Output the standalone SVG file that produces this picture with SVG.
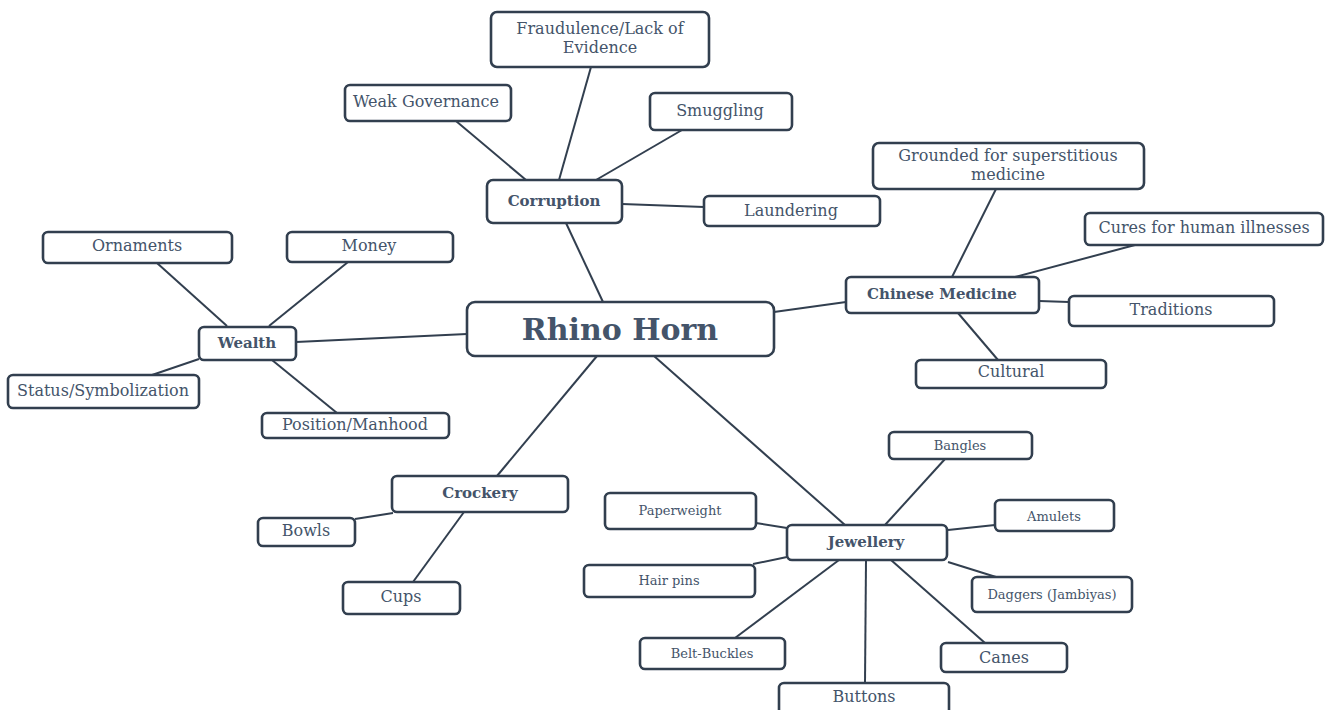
<svg xmlns="http://www.w3.org/2000/svg" width="1330" height="710" viewBox="0 0 1330 710">
<style>
.box{fill:#fff;stroke:#323f4f;stroke-width:2.6}
.t{font-family:"DejaVu Serif","Liberation Serif",serif;font-size:16px;fill:#44546a;text-anchor:middle}
.s{font-size:13px}
.b{font-weight:bold;font-size:15px}
.c line{stroke:#323f4f;stroke-width:2}
</style>
<rect width="1330" height="710" fill="#fff"/>
<g class="c" id="connectors">
<line x1="591" y1="67" x2="559" y2="180"/>
<line x1="456" y1="121" x2="526" y2="180"/>
<line x1="682" y1="130" x2="596" y2="180"/>
<line x1="622" y1="204" x2="704" y2="207"/>
<line x1="566" y1="223" x2="603" y2="302"/>
<line x1="996" y1="189" x2="952" y2="277"/>
<line x1="1135" y1="245" x2="1015" y2="277"/>
<line x1="1039" y1="301" x2="1069" y2="302"/>
<line x1="958" y1="313" x2="998" y2="360"/>
<line x1="774" y1="312" x2="846" y2="302"/>
<line x1="157" y1="263" x2="227" y2="326"/>
<line x1="348" y1="262" x2="269" y2="326"/>
<line x1="199" y1="359" x2="152" y2="375"/>
<line x1="272" y1="360" x2="337" y2="413"/>
<line x1="296" y1="342" x2="467" y2="334"/>
<line x1="597" y1="356" x2="497" y2="476"/>
<line x1="355" y1="519" x2="393" y2="513"/>
<line x1="413" y1="582" x2="464" y2="512"/>
<line x1="654" y1="356" x2="845" y2="525"/>
<line x1="945" y1="459" x2="885" y2="525"/>
<line x1="756" y1="523" x2="787" y2="528"/>
<line x1="995" y1="525" x2="948" y2="530"/>
<line x1="753" y1="564" x2="787" y2="557"/>
<line x1="948" y1="562" x2="996" y2="577"/>
<line x1="735" y1="638" x2="839" y2="560"/>
<line x1="865" y1="683" x2="866" y2="560"/>
<line x1="985" y1="643" x2="891" y2="560"/>
</g>
<g id="rhino"><rect class="box" x="467" y="302" width="307" height="54" rx="8"/><text class="t b" x="620" y="340" style="font-size:30px">Rhino Horn</text></g>
<g id="corruption"><rect class="box" x="487" y="180" width="135" height="43" rx="6"/><text class="t b" x="554" y="206">Corruption</text></g>
<g id="fraud"><rect class="box" x="491" y="12" width="218" height="55" rx="6"/><text class="t" x="600" y="34">Fraudulence/Lack of</text><text class="t" x="600" y="53">Evidence</text></g>
<g id="weakgov"><rect class="box" x="345" y="85" width="166" height="36" rx="5"/><text class="t" x="426" y="107">Weak Governance</text></g>
<g id="smuggling"><rect class="box" x="650" y="93" width="142" height="37" rx="5"/><text class="t" x="720" y="116">Smuggling</text></g>
<g id="laundering"><rect class="box" x="704" y="196" width="176" height="30" rx="5"/><text class="t" x="791" y="216">Laundering</text></g>
<g id="chinese"><rect class="box" x="846" y="277" width="193" height="36" rx="5"/><text class="t b" x="942" y="299">Chinese Medicine</text></g>
<g id="grounded"><rect class="box" x="873" y="143" width="271" height="46" rx="6"/><text class="t" x="1008" y="161">Grounded for superstitious</text><text class="t" x="1008" y="180">medicine</text></g>
<g id="cures"><rect class="box" x="1085" y="213" width="238" height="32" rx="5"/><text class="t" x="1204" y="233">Cures for human illnesses</text></g>
<g id="traditions"><rect class="box" x="1069" y="296" width="205" height="30" rx="5"/><text class="t" x="1171" y="315">Traditions</text></g>
<g id="cultural"><rect class="box" x="916" y="360" width="190" height="28" rx="5"/><text class="t" x="1011" y="377">Cultural</text></g>
<g id="wealth"><rect class="box" x="199" y="327" width="97" height="33" rx="5"/><text class="t b" x="247" y="348">Wealth</text></g>
<g id="ornaments"><rect class="box" x="43" y="232" width="189" height="31" rx="5"/><text class="t" x="137" y="251">Ornaments</text></g>
<g id="money"><rect class="box" x="287" y="232" width="166" height="30" rx="5"/><text class="t" x="369" y="251">Money</text></g>
<g id="status"><rect class="box" x="8" y="375" width="191" height="33" rx="5"/><text class="t" x="103" y="396">Status/Symbolization</text></g>
<g id="position"><rect class="box" x="262" y="413" width="187" height="25" rx="5"/><text class="t" x="355" y="430">Position/Manhood</text></g>
<g id="crockery"><rect class="box" x="392" y="476" width="176" height="36" rx="5"/><text class="t b" x="480" y="498">Crockery</text></g>
<g id="bowls"><rect class="box" x="258" y="518" width="97" height="28" rx="5"/><text class="t" x="306" y="536">Bowls</text></g>
<g id="cups"><rect class="box" x="343" y="582" width="117" height="32" rx="5"/><text class="t" x="401" y="602">Cups</text></g>
<g id="jewellery"><rect class="box" x="787" y="525" width="160" height="35" rx="5"/><text class="t b" x="866" y="547">Jewellery</text></g>
<g id="bangles"><rect class="box" x="889" y="432" width="143" height="27" rx="5"/><text class="t s" x="960" y="450">Bangles</text></g>
<g id="paperweight"><rect class="box" x="605" y="493" width="151" height="36" rx="5"/><text class="t s" x="680" y="515">Paperweight</text></g>
<g id="amulets"><rect class="box" x="995" y="500" width="119" height="31" rx="5"/><text class="t s" x="1054" y="521">Amulets</text></g>
<g id="hairpins"><rect class="box" x="584" y="565" width="171" height="32" rx="5"/><text class="t s" x="669" y="585">Hair pins</text></g>
<g id="daggers"><rect class="box" x="972" y="577" width="160" height="35" rx="5"/><text class="t s" x="1052" y="599">Daggers (Jambiyas)</text></g>
<g id="beltbuckles"><rect class="box" x="640" y="638" width="145" height="31" rx="5"/><text class="t s" x="712" y="658">Belt-Buckles</text></g>
<g id="canes"><rect class="box" x="941" y="643" width="126" height="29" rx="5"/><text class="t" x="1004" y="663">Canes</text></g>
<g id="buttons"><rect class="box" x="779" y="683" width="170" height="34" rx="5"/><text class="t" x="864" y="702">Buttons</text></g>
</svg>
